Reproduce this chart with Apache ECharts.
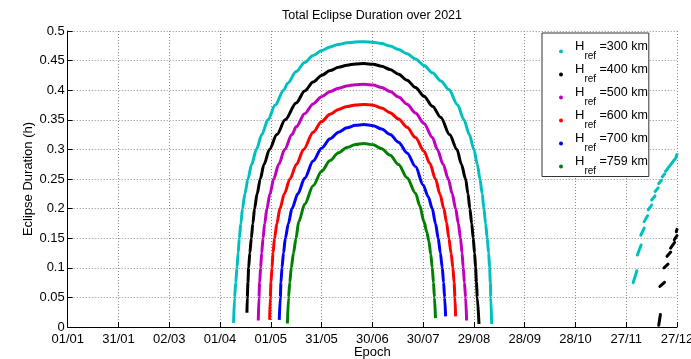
<!DOCTYPE html>
<html>
<head>
<meta charset="utf-8">
<script src="https://cdn.jsdelivr.net/npm/echarts@6/dist/echarts.min.js"></script>
<style>
html,body{margin:0;padding:0;background:#fff;}
#chart{width:691px;height:359px;}
</style>
</head>
<body>
<div id="chart"></div>
<script>
// ---- data ----
const xTickLabels = ['01/01','31/01','02/03','01/04','01/05','31/05','30/06','30/07','29/08','28/09','28/10','27/11','27/12'];
const yTickLabels = ['0','0.05','0.1','0.15','0.2','0.25','0.3','0.35','0.4','0.45','0.5'];
const altitudes = ['300 km','400 km','500 km','600 km','700 km','759 km'];
const colors = ['#00BFBF','#000000','#BF00BF','#FF0000','#0000FF','#008000'];

// [day of year, eclipse duration (h)]
const h300 = [[98.0,0.007],[98.6,0.05],[99.3,0.075],[100.0,0.10],[100.7,0.125],[101.4,0.15],[102.3,0.175],[103.3,0.20],[104.7,0.225],[106.5,0.25],[108.7,0.275],[111.5,0.30],[114.7,0.325],[118.3,0.35],[122.6,0.375],[127.6,0.40],[130,0.4116],[135,0.4316],[140,0.4469],[145,0.4585],[150,0.4670],[155,0.4731],[160,0.4773],[165,0.4800],[170,0.4815],[175,0.482],[180.5,0.4812],[185.5,0.4787],[190.5,0.4746],[195.5,0.4689],[200.5,0.4615],[205.5,0.4525],[210.5,0.4418],[215.5,0.4295],[220.5,0.4156],[225.2,0.401],[230.4,0.375],[234.1,0.35],[237.3,0.325],[240,0.30],[242,0.275],[243.6,0.25],[244.9,0.225],[245.9,0.20],[246.9,0.175],[247.9,0.15],[248.7,0.125],[249.3,0.10],[249.7,0.075],[250,0.05],[250.5,0.005]];
const h400 = [[105.9,0.024],[106.1,0.05],[106.5,0.075],[106.9,0.10],[107.6,0.125],[108.5,0.15],[109.4,0.175],[110.4,0.20],[111.9,0.225],[113.8,0.25],[116.0,0.275],[119.2,0.30],[123.6,0.325],[128.5,0.35],[135,0.3785],[140,0.3986],[145,0.4138],[150,0.425],[155,0.4331],[160,0.4387],[165,0.4423],[170,0.4444],[175,0.445],[180.5,0.4439],[185.5,0.4405],[190.5,0.4349],[195.5,0.427],[200.5,0.4169],[205.5,0.4045],[210.5,0.3899],[215.5,0.373],[220.5,0.3539],[225.6,0.325],[230.0,0.30],[232.6,0.275],[235.1,0.25],[236.5,0.225],[237.6,0.20],[238.7,0.175],[239.6,0.15],[240.4,0.125],[241,0.10],[241.5,0.075],[242,0.05],[243,0.005]];
const h500 = [[112.6,0.011],[113.0,0.05],[113.4,0.075],[114.0,0.10],[114.6,0.125],[115.4,0.15],[116.4,0.175],[117.7,0.20],[119.5,0.225],[121.7,0.25],[124.7,0.275],[128.2,0.30],[132.5,0.325],[135,0.3381],[140,0.3603],[145,0.3769],[150,0.389],[155,0.3976],[160,0.4035],[165,0.4072],[170,0.4093],[175,0.41],[180.5,0.4087],[185.5,0.4046],[190.5,0.3979],[195.5,0.3884],[200.5,0.3763],[205.5,0.3614],[210.5,0.3439],[215.5,0.320],[218.4,0.30],[221.8,0.275],[224.9,0.25],[227.2,0.225],[229.2,0.20],[230.8,0.175],[232.1,0.15],[233.0,0.125],[233.7,0.10],[234.4,0.075],[235.1,0.05],[235.7,0.011]];
const h600 = [[119.3,0.012],[119.7,0.05],[120.1,0.075],[120.7,0.10],[121.3,0.125],[122.2,0.15],[123.6,0.175],[125.4,0.20],[128.0,0.225],[131.3,0.25],[135.2,0.275],[139.4,0.30],[145,0.329],[150,0.347],[155,0.3593],[160,0.3675],[165,0.3725],[170,0.3752],[175,0.376],[180.5,0.3745],[185.5,0.3698],[190.5,0.3621],[195.5,0.3512],[200.5,0.3373],[205.5,0.320],[210.5,0.297],[214,0.276],[217.3,0.25],[220,0.224],[222.2,0.20],[223.8,0.177],[225.2,0.15],[226.5,0.125],[227.6,0.10],[228.3,0.075],[228.8,0.05],[229.2,0.018]];
const h700 = [[125.0,0.012],[125.6,0.05],[126.0,0.075],[126.6,0.10],[127.5,0.125],[128.6,0.15],[130.4,0.175],[132.5,0.20],[136,0.225],[140,0.2513],[145,0.2803],[150,0.302],[155,0.3179],[160,0.3291],[165,0.3365],[170,0.3406],[175,0.342],[180.5,0.3401],[185.5,0.3345],[190.5,0.3252],[195.5,0.3121],[200.5,0.294],[205.5,0.271],[210,0.24],[213,0.220],[215.4,0.20],[217.3,0.175],[218.9,0.15],[220.2,0.125],[221.3,0.10],[222.1,0.075],[222.7,0.05],[223.3,0.018]];
const h759 = [[129.8,0.006],[130.5,0.05],[131.2,0.075],[132.1,0.10],[133.4,0.125],[134.9,0.15],[136.5,0.178],[140,0.2072],[145,0.2387],[150,0.263],[155,0.2812],[160,0.2944],[165,0.3032],[170,0.3083],[175,0.31],[180.5,0.3078],[185.5,0.3011],[190.5,0.29],[195.5,0.2744],[200.5,0.252],[205.5,0.226],[208,0.205],[210.5,0.178],[212.2,0.160],[213.4,0.145],[214.5,0.123],[215.4,0.10],[216.1,0.075],[216.7,0.05],[217.3,0.015]];

// December season, short dashes: [day1, value1, day2, value2]
const dec300 = [[334.1,0.075,336.3,0.095],[336.6,0.1215,338.8,0.1385],[338.6,0.155,340.6,0.167],[340.6,0.178,342.6,0.188],[343,0.198,345,0.206],[345,0.2146,347,0.2214],[347.1,0.229,348.9,0.235],[349.2,0.2423,350.8,0.2477],[351.3,0.2536,352.7,0.2584],[353.2,0.263,354.4,0.267],[354.8,0.269,356.0,0.273],[356.4,0.275,357.6,0.279],[358.0,0.281,359.2,0.285],[359.5,0.288,360,0.2915]];
const dec400 = [[349.2,0.003,350.2,0.021],[349.9,0.0686,352.6,0.0754],[352.3,0.0999,354.7,0.1061],[354.1,0.1194,356.3,0.1266],[356.2,0.1332,358.6,0.1428],[358.4,0.1474,360,0.1546],[359.6,0.161,360,0.165]];

const mainData = [h300,h400,h500,h600,h700,h759];
const decData = [dec300, dec400];

// ---- chart ----
const FONT = '"Liberation Sans", Arial, Helvetica, sans-serif';
const chart = echarts.init(document.getElementById('chart'), null, {renderer:'canvas'});

const series = [];
mainData.forEach((d, i) => {
  series.push({
    name: altitudes[i], type: 'line', data: d, symbol: 'none', smooth: 0.3, smoothMonotone: 'x',
    color: colors[i], lineStyle: {color: colors[i], width: 3}, silent: true, animation: false, z: 3 + i
  });
});
decData.forEach((d, i) => {
  series.push({
    name: 'dec' + i, type: 'lines', coordinateSystem: 'cartesian2d', silent: true, animation: false,
    data: d.map(s => ({coords: [[s[0], s[1]], [s[2], s[3]]]})),
    lineStyle: {color: colors[i], width: 3, opacity: 1, curveness: 0, cap: 'round'}, z: 3
  });
});

chart.setOption({
  animation: false,
  backgroundColor: '#fff',
  title: {
    text: 'Total Eclipse Duration over 2021', left: 372, top: 9, padding: 0, textAlign: 'center',
    textStyle: {fontFamily: FONT, fontSize: 12.5, fontWeight: 'normal', color: '#000'}
  },
  grid: {left: 67.7, right: 14, top: 31, bottom: 32, containLabel: false, outerBoundsMode: 'none'},
  xAxis: {
    type: 'value', min: 0, max: 360, interval: 30,
    name: 'Epoch', nameLocation: 'middle', nameGap: 19, nameMoveOverlap: false,
    nameTextStyle: {fontFamily: FONT, fontSize: 13, color: '#000'},
    axisLine: {show: true, onZero: false, lineStyle: {color: '#000', width: 1}},
    axisTick: {show: true, inside: true, length: 5, lineStyle: {color: '#000'}},
    axisLabel: {fontFamily: FONT, fontSize: 13, color: '#000', margin: 6, showMinLabel: true, showMaxLabel: true,
      formatter: v => xTickLabels[Math.round(v / 30)]},
    splitLine: {show: true, lineStyle: {color: '#8a8a8a', width: 1, type: [1, 2]}}
  },
  yAxis: {
    type: 'value', min: 0, max: 0.5, interval: 0.05,
    name: 'Eclipse Duration (h)', nameLocation: 'middle', nameGap: 33, nameMoveOverlap: false,
    nameTextStyle: {fontFamily: FONT, fontSize: 13, color: '#000'},
    axisLine: {show: true, onZero: false, lineStyle: {color: '#000', width: 1}},
    axisTick: {show: true, inside: true, length: 5, lineStyle: {color: '#000'}},
    axisLabel: {fontFamily: FONT, fontSize: 13, color: '#000', margin: 3, showMinLabel: true, showMaxLabel: true,
      formatter: v => yTickLabels[Math.round(v / 0.05)]},
    splitLine: {show: true, lineStyle: {color: '#8a8a8a', width: 1, type: [1, 2]}}
  },
  legend: {
    orient: 'vertical', left: 542, top: 33, padding: [7, 1, 0, 17], itemGap: 1.5,
    itemWidth: 16, itemHeight: 4, icon: 'circle',
    borderColor: '#333', borderWidth: 1, backgroundColor: '#fff',
    data: altitudes, selectedMode: false,
    formatter: name => '{h|H}{s|ref}{t| =' + name + '}',
    textStyle: {
      fontFamily: FONT, fontSize: 13, color: '#000', padding: [0, 0, 0, 1],
      rich: {
        h: {fontFamily: FONT, fontSize: 13, color: '#000', padding: [0, 0, 10, 0]},
        s: {fontFamily: FONT, fontSize: 10, color: '#000', padding: [10, 0, 0, 0]},
        t: {fontFamily: FONT, fontSize: 12.5, color: '#000', padding: [0, 0, 10, 0]}
      }
    }
  },
  series: series
});
</script>
</body>
</html>
